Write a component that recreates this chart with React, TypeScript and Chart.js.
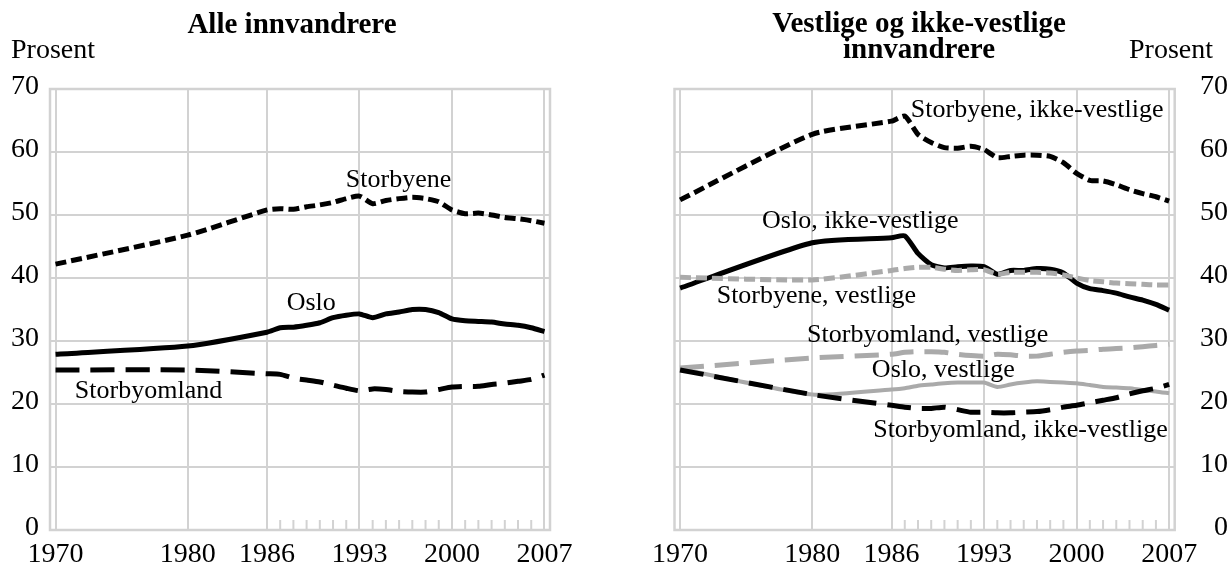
import { useEffect, useRef } from 'react';
import { Chart, registerables } from 'chart.js';

Chart.register(...registerables);

// ---- data ----
const years = [1970, 1980, 1986, 1987, 1988, 1989, 1990, 1991, 1992, 1993, 1994, 1995, 1996, 1997, 1998, 1999, 2000, 2001, 2002, 2003, 2004, 2005, 2006, 2007];
const majorYears = [1970, 1980, 1986, 1993, 2000, 2007];
const minorYears = years.filter((y) => !majorYears.includes(y));

// Alle innvandrere
const storbyene = [42.2, 46.8, 50.8, 51.0, 50.9, 51.3, 51.6, 52.0, 52.6, 53.0, 51.8, 52.3, 52.6, 52.8, 52.6, 52.1, 50.8, 50.2, 50.3, 50.0, 49.6, 49.4, 49.1, 48.7];
const oslo = [27.9, 29.2, 31.4, 32.1, 32.2, 32.5, 32.9, 33.7, 34.1, 34.3, 33.7, 34.3, 34.6, 35.0, 35.0, 34.5, 33.5, 33.2, 33.1, 33.0, 32.7, 32.5, 32.1, 31.5];
const storbyomland = [25.4, 25.4, 24.8, 24.7, 24.1, 23.8, 23.5, 23.0, 22.5, 22.1, 22.4, 22.3, 22.0, 21.9, 21.9, 22.3, 22.7, 22.8, 22.8, 23.1, 23.3, 23.6, 23.9, 24.6];

// Vestlige og ikke-vestlige innvandrere
const storbyeneIkkeVestlige = [52.4, 62.8, 64.9, 65.7, 62.8, 61.5, 60.7, 60.6, 60.9, 60.4, 59.1, 59.3, 59.5, 59.5, 59.3, 58.3, 56.6, 55.5, 55.4, 54.8, 54.0, 53.4, 52.9, 52.2];
const osloIkkeVestlige = [38.4, 45.6, 46.4, 46.7, 43.9, 42.1, 41.6, 41.8, 41.9, 41.8, 40.6, 41.2, 41.2, 41.5, 41.4, 40.8, 39.2, 38.3, 38.0, 37.6, 37.0, 36.5, 35.8, 34.9];
const storbyeneVestlige = [40.1, 39.7, 41.2, 41.5, 41.7, 41.7, 41.4, 41.2, 41.3, 41.3, 40.6, 40.9, 40.9, 40.9, 40.8, 40.5, 40.0, 39.6, 39.4, 39.2, 39.1, 39.0, 38.9, 38.9];
const storbyomlandVestlige = [25.7, 27.3, 27.9, 28.2, 28.3, 28.3, 28.2, 27.9, 27.7, 27.6, 27.9, 27.8, 27.6, 27.6, 27.9, 28.2, 28.4, 28.5, 28.7, 28.8, 28.9, 29.1, 29.3, 29.5];
const osloVestlige = [25.6, 21.5, 22.3, 22.5, 22.9, 23.1, 23.3, 23.4, 23.4, 23.4, 22.7, 23.1, 23.4, 23.6, 23.5, 23.4, 23.3, 23.0, 22.7, 22.6, 22.5, 22.2, 22.0, 21.7];
const storbyomlandIkkeVestlige = [25.4, 21.5, 19.8, 19.5, 19.3, 19.3, 19.5, 19.1, 18.7, 18.7, 18.6, 18.6, 18.7, 18.8, 19.1, 19.5, 19.8, 20.2, 20.6, 21.0, 21.6, 22.1, 22.5, 23.1];

// annotation labels (in data coordinates: year, percent)
type Lbl = { text: string; x: number; y: number };
const leftLabels: Lbl[] = [
  { text: 'Storbyene', x: 1991.97, y: 54.4 },
  { text: 'Oslo', x: 1987.49, y: 34.9 },
  { text: 'Storbyomland', x: 1971.46, y: 20.95 },
];
const rightLabels: Lbl[] = [
  { text: 'Storbyene, ikke-vestlige', x: 1987.46, y: 65.6 },
  { text: 'Oslo, ikke-vestlige', x: 1976.2, y: 47.9 },
  { text: 'Storbyene, vestlige', x: 1972.77, y: 36.1 },
  { text: 'Storbyomland, vestlige', x: 1979.61, y: 29.9 },
  { text: 'Oslo, vestlige', x: 1984.51, y: 24.3 },
  { text: 'Storbyomland, ikke-vestlige', x: 1984.61, y: 14.8 },
];

// ---- styles ----
const FONT = "'Liberation Serif', 'Times New Roman', Times, serif";
const GRID = '#d2d2d2';
const BLACK = '#000000';
const GREY = '#aaaaaa';
const SHORT = [11, 5];
const LONG = [24, 11];

const pts = (vals: number[]) => years.map((y, i) => ({ x: y, y: vals[i] }));

function ds(label: string, vals: number[], color: string, dash: number[], width = 5) {
  return {
    label,
    data: pts(vals),
    borderColor: color,
    backgroundColor: color,
    borderWidth: width,
    borderDash: dash,
    borderCapStyle: 'butt' as const,
    borderJoinStyle: 'round' as const,
    pointRadius: 0,
    tension: 0.2,
    fill: false,
  };
}

type Side = 'left' | 'right';

function makeDecor(side: Side, labels: Lbl[]) {
  return {
    id: 'decor-' + side,
    beforeDatasetsDraw(chart: any) {
      const { ctx, chartArea: a, scales } = chart;
      ctx.save();
      ctx.strokeStyle = GRID;
      ctx.lineWidth = 2;
      for (const yr of minorYears) {
        const x = scales.x.getPixelForValue(yr);
        ctx.beginPath();
        ctx.moveTo(x, a.bottom);
        ctx.lineTo(x, a.bottom - 10);
        ctx.stroke();
      }
      ctx.lineWidth = 2.5;
      ctx.strokeRect(a.left, a.top, a.right - a.left, a.bottom - a.top);
      ctx.restore();
    },
    afterDraw(chart: any) {
      const { ctx, scales } = chart;
      ctx.save();
      ctx.fillStyle = BLACK;
      ctx.textBaseline = 'alphabetic';
      ctx.font = `26px ${FONT}`;
      ctx.textAlign = 'left';
      for (const l of labels) {
        ctx.fillText(l.text, scales.x.getPixelForValue(l.x), scales.y.getPixelForValue(l.y));
      }
      ctx.font = `bold 29px ${FONT}`;
      ctx.textAlign = 'center';
      if (side === 'left') {
        ctx.fillText('Alle innvandrere', 292, 33);
      } else {
        ctx.fillText('Vestlige og ikke-vestlige', 305, 32);
        ctx.fillText('innvandrere', 305, 58);
      }
      ctx.font = `28px ${FONT}`;
      if (side === 'left') {
        ctx.textAlign = 'left';
        ctx.fillText('Prosent', 11, 58);
      } else {
        ctx.textAlign = 'right';
        ctx.fillText('Prosent', 599, 58);
      }
      ctx.restore();
    },
  };
}

function makeConfig(side: Side): any {
  const datasets =
    side === 'left'
      ? [
          ds('Storbyene', storbyene, BLACK, SHORT),
          ds('Oslo', oslo, BLACK, []),
          ds('Storbyomland', storbyomland, BLACK, LONG),
        ]
      : [
          ds('Storbyene, vestlige', storbyeneVestlige, GREY, SHORT),
          ds('Storbyene, ikke-vestlige', storbyeneIkkeVestlige, BLACK, SHORT),
          ds('Oslo, ikke-vestlige', osloIkkeVestlige, BLACK, []),
          ds('Storbyomland, ikke-vestlige', storbyomlandIkkeVestlige, BLACK, LONG),
          ds('Storbyomland, vestlige', storbyomlandVestlige, GREY, LONG),
          ds('Oslo, vestlige', osloVestlige, GREY, [], 4),
        ];

  return {
    type: 'line',
    data: { datasets },
    plugins: [makeDecor(side, side === 'left' ? leftLabels : rightLabels)],
    options: {
      animation: false,
      responsive: true,
      maintainAspectRatio: false,
      devicePixelRatio: 1,
      layout: {
        padding: side === 'left' ? { left: 0, right: 64, top: 89, bottom: 0 } : { left: 60.5, right: 0, top: 89, bottom: 0 },
      },
      plugins: { legend: { display: false }, tooltip: { enabled: false }, title: { display: false } },
      scales: {
        x: {
          type: 'linear',
          position: 'bottom',
          min: 1969.58,
          max: 2007.42,
          afterBuildTicks: (s: any) => {
            s.ticks = majorYears.map((v) => ({ value: v }));
          },
          afterFit: (s: any) => {
            s.height = 38;
          },
          border: { display: false },
          grid: { color: GRID, lineWidth: 2, drawTicks: false },
          ticks: {
            autoSkip: false,
            maxRotation: 0,
            padding: 8,
            color: BLACK,
            font: { family: FONT, size: 28 },
            callback: (v: any) => String(v),
          },
        },
        y: {
          type: 'linear',
          position: side === 'left' ? 'left' : 'right',
          min: 0,
          max: 70,
          afterFit: (s: any) => {
            s.width = side === 'left' ? 50 : 53.3;
          },
          border: { display: false },
          grid: { color: GRID, lineWidth: 2, drawTicks: false },
          ticks: {
            stepSize: 10,
            padding: side === 'left' ? 11 : 12,
            crossAlign: side === 'left' ? 'near' : 'far',
            labelOffset: -2,
            color: BLACK,
            font: { family: FONT, size: 28 },
            callback: (v: any) => String(v),
          },
        },
      },
    },
  };
}

function Panel({ side }: { side: Side }) {
  const ref = useRef<HTMLCanvasElement | null>(null);
  useEffect(() => {
    if (!ref.current) return;
    const chart = new Chart(ref.current, makeConfig(side));
    return () => chart.destroy();
  }, [side]);
  return (
    <div
      style={{
        position: 'absolute',
        left: side === 'left' ? 0 : 614,
        top: 0,
        width: 614,
        height: 568,
      }}
    >
      <canvas ref={ref} />
    </div>
  );
}

export default function App() {
  return (
    <div style={{ position: 'fixed', left: 0, top: 0, width: 1228, height: 568, background: '#ffffff' }}>
      <Panel side="left" />
      <Panel side="right" />
    </div>
  );
}
